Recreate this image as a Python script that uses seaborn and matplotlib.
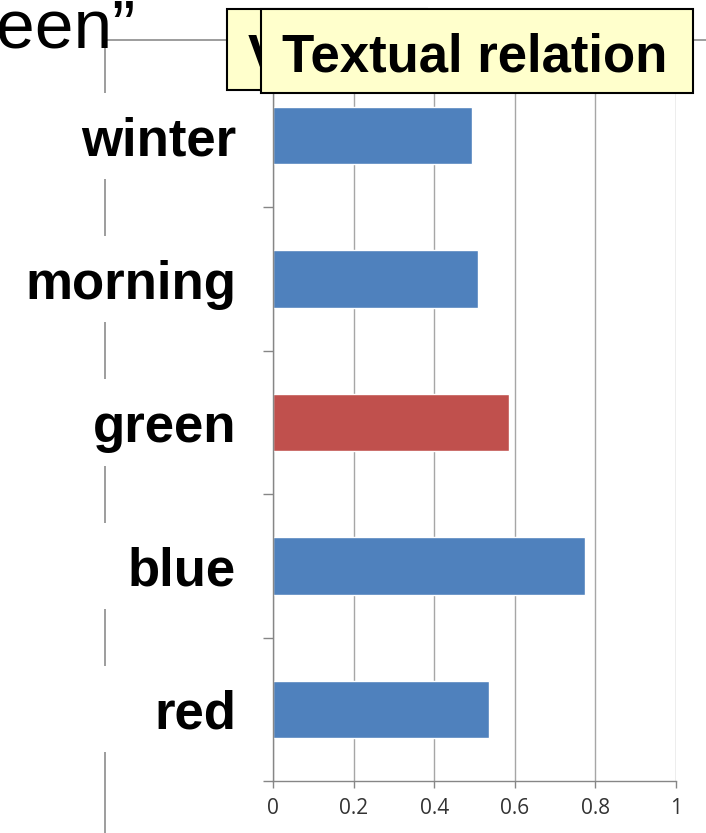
import matplotlib
matplotlib.use("Agg")
import matplotlib.pyplot as plt
import matplotlib.transforms as mtransforms
from matplotlib.lines import Line2D
from matplotlib.patches import Rectangle
import pandas as pd
import seaborn as sns

# data
words = ["winter", "morning", "green", "blue", "red"]
scores = [0.494, 0.509, 0.586, 0.775, 0.537]
bar_colors = ["#4F81BD", "#4F81BD", "#C0504D", "#4F81BD", "#4F81BD"]
x_ticks = [0, 0.2, 0.4, 0.6, 0.8, 1]
x_tick_labels = ["0", "0.2", "0.4", "0.6", "0.8", "1"]
box_title = "Textual relation"
hidden_title = "V"
slide_fragment = "een\u201d"

sns.set_theme(style="white")
plt.rcParams["font.family"] = ["Liberation Sans", "DejaVu Sans"]

W, H = 706, 833
fig = plt.figure(figsize=(W / 100, H / 100), dpi=100)
ax = fig.add_axes([273 / W, 1 - 781 / H, 403 / W, 717 / H])

df = pd.DataFrame({"word": words, "score": scores})
sns.barplot(data=df, x="score", y="word", hue="word",
            palette=dict(zip(words, bar_colors)), width=0.4,
            legend=False, saturation=1, ax=ax)

ax.set_xlim(0, 1)
ax.set_ylim(len(words) - 0.5, -0.5)
ax.set_xlabel("")
ax.set_ylabel("")
ax.set_axisbelow(True)
ax.grid(axis="x", color="#A6A6A6", lw=1.0)
ax.grid(axis="y", visible=False)

for side in ["top", "right"]:
    ax.spines[side].set_visible(False)
for side in ["left", "bottom"]:
    ax.spines[side].set_color("#868686")
    ax.spines[side].set_linewidth(1.0)

ax.set_xticks(x_ticks)
ax.set_xticklabels(x_tick_labels, fontfamily="Open Sans", fontsize=15, color="#333333")
ax.tick_params(axis="x", bottom=True, length=5, width=1.0, color="#868686", pad=7)

# category boundaries as major ticks, labels on minor ticks
bounds = [i - 0.5 for i in range(len(words) + 1)]
ax.set_yticks(bounds)
ax.set_yticklabels([""] * len(bounds))
ax.set_yticks(range(len(words)), minor=True)
ax.set_yticklabels(words, minor=True, fontsize=38, fontweight="bold", color="black")
ax.tick_params(axis="y", which="major", left=True, length=7.2, width=1.0, color="#868686")
ax.tick_params(axis="y", which="minor", left=True, length=0, pad=26.5)

# slide connector line, hidden behind the label boxes
line_kw = dict(color="#8C8C8C", lw=1.2, zorder=-1, transform=fig.transFigure)
fig.add_artist(Line2D([105 / W, 1], [1 - 40 / H, 1 - 40 / H], **line_kw))
fig.add_artist(Line2D([105 / W, 105 / W], [1 - 40 / H, 0], **line_kw))
trans = mtransforms.blended_transform_factory(fig.transFigure, ax.transData)
for i in range(len(words)):
    ax.add_patch(Rectangle((95 / W, i - 0.3), 20 / W, 0.6, transform=trans,
                           facecolor="white", edgecolor="none", clip_on=False, zorder=0.1))

# top-left fragment of the slide title
fig.text(135 / W, 1 - 47 / H, slide_fragment, ha="right", va="baseline",
         fontsize=50, color="black")

# overlapping callout boxes
fig.add_artist(Rectangle((227 / W, 1 - 90 / H), 200 / W, 81 / H, transform=fig.transFigure,
                         facecolor="#FFFFCC", edgecolor="black", lw=1.5, zorder=1))
fig.text(248 / W, 1 - 72 / H, hidden_title, ha="left", va="baseline",
         fontsize=38, fontweight="bold", color="black", zorder=2)
fig.add_artist(Rectangle((261 / W, 1 - 93 / H), 432 / W, 84 / H, transform=fig.transFigure,
                         facecolor="#FFFFCC", edgecolor="black", lw=1.5, zorder=3))
fig.text(282 / W, 1 - 72 / H, box_title, ha="left", va="baseline",
         fontsize=38, fontweight="bold", color="black", zorder=4)

fig.savefig("out.png", dpi=100)
